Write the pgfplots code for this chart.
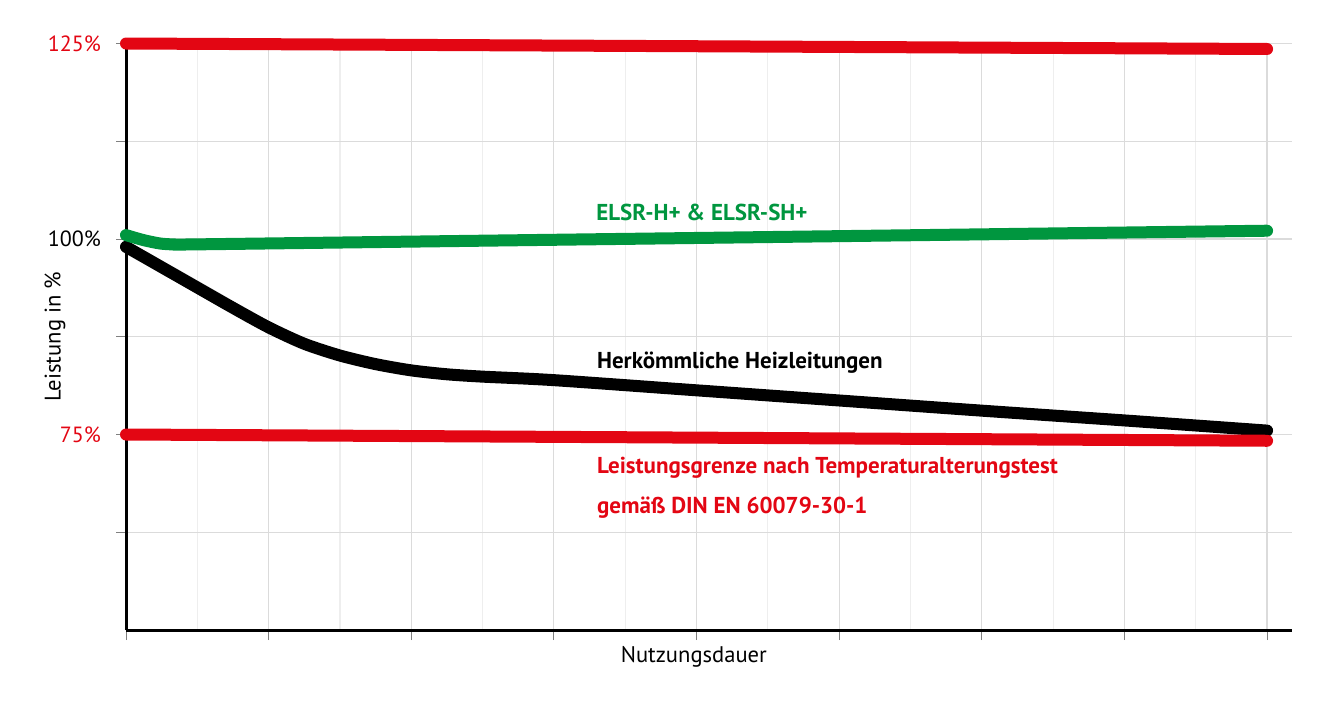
\documentclass[border=0pt]{standalone}
\usepackage{pgfplots}
\pgfplotsset{compat=1.18}
\usepackage{fontspec}
\setmainfont{PT Sans}
\definecolor{lred}{HTML}{E30613}
\definecolor{lgreen}{HTML}{00963F}

\begin{document}
\begin{tikzpicture}
\path[use as bounding box] (-63pt,-35.5pt) rectangle (597pt,315pt);
\begin{axis}[
  at={(0pt,0pt)}, anchor=south west,
  scale only axis, width=583pt, height=293.25pt,
  xmin=0, xmax=16.35, ymin=50, ymax=125,
  clip=false,
  axis x line*=bottom, axis y line*=left,
  axis line style={-, line width=1.5pt, black},
  xtick={0,2,...,16}, minor xtick={1,3,...,15}, xticklabels={},
  ytick={62.5,75,87.5,100,112.5,125},
  yticklabels={,\textcolor{lred}{75\%},,100\%,,\textcolor{lred}{125\%}},
  tick align=outside, major tick length=5pt, minor tick length=0pt,
  tick style={gray, line width=0.5pt},
  grid=both,
  major grid style={gray!28, line width=0.6pt},
  minor grid style={gray!13, line width=0.6pt},
  yticklabel style={font=\fontsize{11}{12}\selectfont, xshift=-4pt},
  xlabel={Nutzungsdauer}, ylabel={Leistung in \%},
  xlabel style={font=\fontsize{11.3}{13}\selectfont, at={(axis description cs:0.487,-0.046)}, anchor=center},
  ylabel style={font=\fontsize{11.3}{13}\selectfont, at={(axis description cs:-0.0609,0.5)}, anchor=center},
  every axis plot/.append style={line width=6pt, line cap=round, line join=round},
]
% conventional heating cables
\addplot[black, smooth, tension=0.45] coordinates {
 (0,99.0) (0.5,96.4) (1.0,93.8) (1.5,91.2) (2.0,88.7) (2.5,86.6) (3.0,85.1)
 (3.5,84.0) (4.0,83.2) (4.5,82.7) (5.0,82.4) (6,81.95) (8,80.65) (10,79.35)
 (12,78.05) (14,76.8) (16,75.5)
};
% ELSR-H+ & ELSR-SH+
\addplot[lgreen, smooth, tension=0.4] coordinates {
 (0,100.5) (0.24,99.87) (0.48,99.42) (0.69,99.3) (1.04,99.32) (6,99.9) (16,101.06)
};
% limits
\addplot[lred] coordinates {(0,125) (16,124.3)};
\addplot[lred] coordinates {(0,75) (16,74.2)};

\node[anchor=west, inner sep=0pt, font=\bfseries\fontsize{11.5}{13}\selectfont, text=lgreen] at (axis cs:6.59,103.45) {ELSR-H+ \& ELSR-SH+};
\node[anchor=west, inner sep=0pt, font=\bfseries\fontsize{11.5}{13}\selectfont, text=black] at (axis cs:6.6,84.2) {Herkömmliche Heizleitungen};
\node[anchor=west, inner sep=0pt, font=\bfseries\fontsize{11.5}{13}\selectfont, text=lred] at (axis cs:6.6,70.7) {Leistungsgrenze nach Temperaturalterungstest};
\node[anchor=west, inner sep=0pt, font=\bfseries\fontsize{11.5}{13}\selectfont, text=lred] at (axis cs:6.6,65.6) {gemäß DIN EN 60079-30-1};
\end{axis}
\end{tikzpicture}
\end{document}
